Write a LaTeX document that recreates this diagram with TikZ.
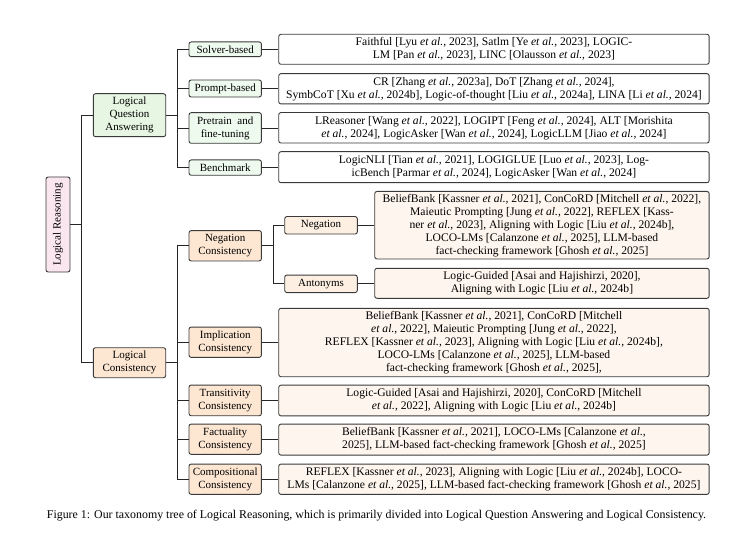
\documentclass[tikz,border=0pt]{standalone}
\usepackage{fontspec}
\setmainfont{Liberation Serif}
\newcommand{\etal}{\textit{et al.}}
\definecolor{rootfill}{HTML}{FAE6EF}
\definecolor{qafill}{HTML}{E6F6E3}
\definecolor{qasub}{HTML}{EFFAEE}
\definecolor{lcfill}{HTML}{FDE7D3}
\definecolor{lcsub}{HTML}{FDF0E3}
\definecolor{lcleaf}{HTML}{FEF6EE}
\definecolor{bordc}{HTML}{3A3A3A}
\tikzset{
  box/.style={draw=bordc, line width=0.9pt, rounded corners=2.2pt, inner sep=1pt, align=center,
    font=\fontsize{11}{12.9}\selectfont},
  leaftxt/.style={font=\fontsize{11.6}{13}\selectfont},
  rootbox/.style={box, fill=rootfill, rotate=90, minimum width=95pt, minimum height=24pt},
  lvla/.style={box, minimum width=72.4pt},
  qaone/.style={lvla, fill=qafill},
  lcone/.style={lvla, fill=lcfill},
  qatwo/.style={lvla, fill=qasub},
  lctwo/.style={lvla, fill=lcfill},
  lcthree/.style={box, fill=lcsub, minimum width=72.6pt, minimum height=17.5pt},
  leafqa/.style={box, leaftxt, fill=white, minimum width=430.4pt, anchor=west},
  leaflc/.style={box, leaftxt, fill=lcleaf, anchor=west},
  conn/.style={draw=black!85, line width=0.8pt},
}
\begin{document}
\begin{tikzpicture}[x=1pt,y=-1pt]
\useasboundingbox (0,0) rectangle (746,537);
% root
\node[rootbox] (root) at (58,224.5) {Logical Reasoning};
% level 1
\node[qaone, minimum height=43pt] (qa) at (129.5,115.2) {Logical\\Question\\Answering};
\node[lcone, minimum height=30pt] (lc) at (129.5,362.7) {Logical\\Consistency};
% level 2 QA
\node[qatwo, minimum height=14.7pt] (solver) at (225.2,49.3) {Solver-based};
\node[qatwo, minimum height=17pt] (prompt) at (225.2,88.5) {Prompt-based};
\node[qatwo, minimum height=30.6pt] (pretrain) at (225.2,128) {Pretrain \ and\\fine-tuning};
\node[qatwo, minimum height=15.3pt] (bench) at (225.2,167.6) {Benchmark};
% level 2 LC
\node[lctwo, minimum height=30.3pt] (negc) at (225.2,245.8) {Negation\\Consistency};
\node[lctwo, minimum height=30.3pt] (impc) at (225.2,342.2) {Implication\\Consistency};
\node[lctwo, minimum height=30.7pt] (trac) at (225.2,400.4) {Transitivity\\Consistency};
\node[lctwo, minimum height=30.3pt] (facc) at (225.2,439.2) {Factuality\\Consistency};
\node[lctwo, minimum height=30.3pt] (comc) at (225.2,479.2) {Compositional\\Consistency};
% level 3
\node[lcthree] (neg) at (321,225.3) {Negation};
\node[lcthree] (ant) at (321,283.8) {Antonyms};
% leaves QA
\node[leafqa, minimum height=30pt] (l1) at (278.3,49.3) {Faithful [Lyu \etal, 2023], Satlm [Ye \etal, 2023], LOGIC-\\LM [Pan \etal, 2023], LINC [Olausson \etal, 2023]};
\node[leafqa, minimum height=30.3pt] (l2) at (278.3,88.8) {CR [Zhang \etal, 2023a], DoT [Zhang \etal, 2024],\\SymbCoT [Xu \etal, 2024b], Logic-of-thought [Liu \etal, 2024a], LINA [Li \etal, 2024]};
\node[leafqa, minimum height=30.5pt] (l3) at (278.3,127.8) {LReasoner [Wang \etal, 2022], LOGIPT [Feng \etal, 2024], ALT [Morishita\\\etal, 2024], LogicAsker [Wan \etal, 2024], LogicLLM [Jiao \etal, 2024]};
\node[leafqa, minimum height=31pt] (l4) at (278.3,167.2) {LogicNLI [Tian \etal, 2021], LOGIGLUE [Luo \etal, 2023], Log-\\icBench [Parmar \etal, 2024], LogicAsker [Wan \etal, 2024]};
% leaves LC
\node[leaflc, minimum width=334.4pt, minimum height=67.5pt] (l5) at (374.3,225.2) {BeliefBank [Kassner \etal, 2021], ConCoRD [Mitchell \etal, 2022],\\Maieutic Prompting [Jung \etal, 2022], REFLEX [Kass-\\ner \etal, 2023], Aligning with Logic [Liu \etal, 2024b],\\LOCO-LMs [Calanzone \etal, 2025], LLM-based\\fact-checking framework [Ghosh \etal, 2025]};
\node[leaflc, minimum width=334.4pt, minimum height=30pt] (l6) at (374.3,283.3) {Logic-Guided [Asai and Hajishirzi, 2020],\\Aligning with Logic [Liu \etal, 2024b]};
\node[leaflc, minimum width=430.4pt, minimum height=68.4pt] (l7) at (278.3,342.5) {BeliefBank [Kassner \etal, 2021], ConCoRD [Mitchell\\\etal, 2022], Maieutic Prompting [Jung \etal, 2022],\\REFLEX [Kassner \etal, 2023], Aligning with Logic [Liu \etal, 2024b],\\LOCO-LMs [Calanzone \etal, 2025], LLM-based\\fact-checking framework [Ghosh \etal, 2025],};
\node[leaflc, minimum width=430.4pt, minimum height=30.7pt] (l8) at (278.3,400.5) {Logic-Guided [Asai and Hajishirzi, 2020], ConCoRD [Mitchell\\\etal, 2022], Aligning with Logic [Liu \etal, 2024b]};
\node[leaflc, minimum width=430.4pt, minimum height=31pt] (l9) at (278.3,439.6) {BeliefBank [Kassner \etal, 2021], LOCO-LMs [Calanzone \etal,\\2025], LLM-based fact-checking framework [Ghosh \etal, 2025]};
\node[leaflc, minimum width=430.4pt, minimum height=30.3pt] (l10) at (278.3,479.2) {REFLEX [Kassner \etal, 2023], Aligning with Logic [Liu \etal, 2024b], LOCO-\\LMs [Calanzone \etal, 2025], LLM-based fact-checking framework [Ghosh \etal, 2025]};
% connectors
\coordinate (t1) at (81.7,224.5);
\coordinate (t2) at (177.3,115.2);
\coordinate (t3) at (177.3,362.7);
\coordinate (t4) at (273.3,245.8);
\draw[conn] (root.south) -- (t1);
\draw[conn] (t1) |- (qa.west);
\draw[conn] (t1) |- (lc.west);
\draw[conn] (qa.east) -- (t2);
\draw[conn] (t2) |- (solver.west);
\draw[conn] (t2) |- (prompt.west);
\draw[conn] (t2) |- (pretrain.west);
\draw[conn] (t2) |- (bench.west);
\draw[conn] (lc.east) -- (t3);
\draw[conn] (t3) |- (negc.west);
\draw[conn] (t3) |- (impc.west);
\draw[conn] (t3) |- (trac.west);
\draw[conn] (t3) |- (facc.west);
\draw[conn] (t3) |- (comc.west);
\draw[conn] (negc.east) -- (t4);
\draw[conn] (t4) |- (neg.west);
\draw[conn] (t4) |- (ant.west);
\draw[conn] (solver.east) -- (solver.east -| l1.west);
\draw[conn] (prompt.east) -- (prompt.east -| l2.west);
\draw[conn] (pretrain.east) -- (pretrain.east -| l3.west);
\draw[conn] (bench.east) -- (bench.east -| l4.west);
\draw[conn] (neg.east) -- (neg.east -| l5.west);
\draw[conn] (ant.east) -- (ant.east -| l6.west);
\draw[conn] (impc.east) -- (impc.east -| l7.west);
\draw[conn] (trac.east) -- (trac.east -| l8.west);
\draw[conn] (facc.east) -- (facc.east -| l9.west);
\draw[conn] (comc.east) -- (comc.east -| l10.west);
% caption
\node[font=\fontsize{11.9}{13}\selectfont, inner sep=0pt] (cap) at (376.5,516) {Figure 1: Our taxonomy tree of Logical Reasoning, which is primarily divided into Logical Question Answering and Logical Consistency.};
\end{tikzpicture}
\end{document}
